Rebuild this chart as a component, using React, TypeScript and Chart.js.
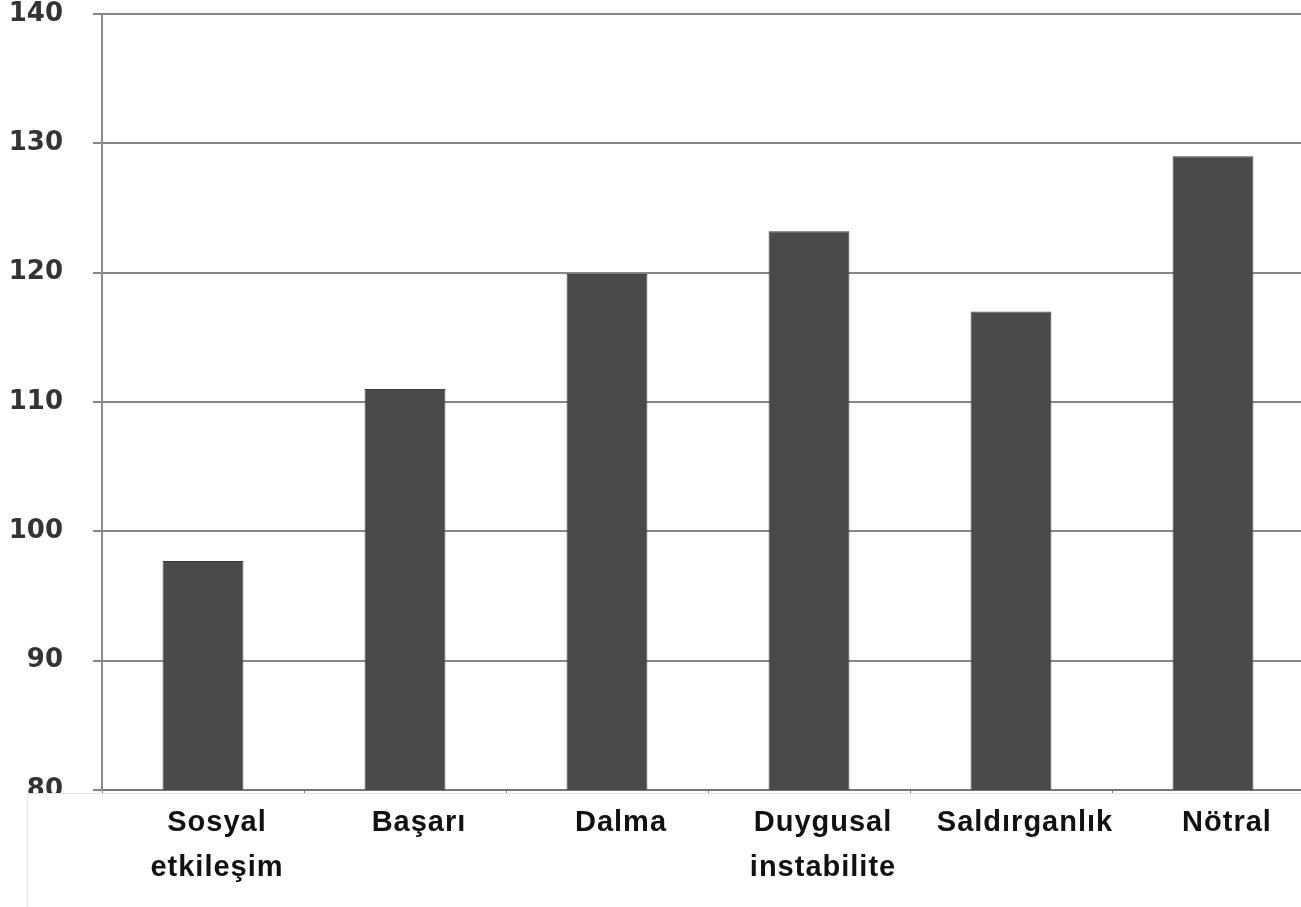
import React, { useEffect, useRef } from "react";
import { Chart, registerables } from "chart.js";

Chart.register(...registerables);

const categories: (string | string[])[] = [
  ["Sosyal", "etkileşim"],
  "Başarı",
  "Dalma",
  ["Duygusal", "instabilite"],
  "Saldırganlık",
  "Nötral",
];
const values: number[] = [97.7, 111, 119.9, 123.2, 117, 129];
const yMin = 80;
const yMax = 140;
const yStep = 10;

const overlayPlugin = {
  id: "overlayBox",
  afterDatasetsDraw(chart: any) {
    const ctx = chart.ctx;
    ctx.save();
    ctx.fillStyle = "#ffffff";
    ctx.fillRect(27, 793, chart.width - 27, chart.height - 793);
    ctx.strokeStyle = "#e4e4e4";
    ctx.lineWidth = 1;
    ctx.beginPath();
    ctx.moveTo(27.5, chart.height);
    ctx.lineTo(27.5, 793.5);
    ctx.lineTo(chart.width, 793.5);
    ctx.stroke();
    ctx.restore();
    (ctx as any).letterSpacing = "1px";
  },
  afterDraw(chart: any) {
    (chart.ctx as any).letterSpacing = "0px";
  },
};

export default function App() {
  const ref = useRef<HTMLCanvasElement | null>(null);
  useEffect(() => {
    if (!ref.current) return;
    const chart = new Chart(ref.current, {
      type: "bar",
      data: {
        labels: categories,
        datasets: [
          {
            data: values,
            backgroundColor: "#4a4a4a",
            borderColor: "#3c3c3c",
            borderWidth: 1,
            barPercentage: 0.4,
            categoryPercentage: 1,
          },
        ],
      },
      options: {
        responsive: false,
        animation: false,
        layout: { autoPadding: false, padding: { top: 14, right: 6, left: 0, bottom: 0 } },
        plugins: { legend: { display: false }, tooltip: { enabled: false } },
        scales: {
          x: {
            afterFit: (s: any) => {
              s.height = 117;
              s.paddingLeft = 0;
              s.paddingRight = 0;
            },
            grid: { display: true, drawOnChartArea: false, tickLength: 4, color: "#8a8a8a", lineWidth: 1 },
            border: { display: true, color: "#777777", width: 2 },
            ticks: {
              z: 1,
              color: "#111111",
              padding: 6,
              labelOffset: 14,
              maxRotation: 0,
              autoSkip: false,
              font: { family: "'Liberation Sans', Arial, sans-serif", size: 29, weight: "bold", lineHeight: 1.56 },
            },
          },
          y: {
            min: yMin,
            max: yMax,
            afterFit: (s: any) => {
              s.width = 102;
              s.paddingTop = 0;
              s.paddingBottom = 0;
            },
            grid: { color: "#868686", lineWidth: 2, tickLength: 9 },
            border: { display: true, color: "#8a8a8a", width: 2 },
            ticks: {
              stepSize: yStep,
              color: "#333333",
              padding: 30,
              font: { family: "'DejaVu Sans', sans-serif", size: 26, weight: "bold" },
            },
          },
        },
      },
      plugins: [overlayPlugin],
    } as any);
    return () => chart.destroy();
  }, []);
  return (
    <div style={{ position: "fixed", left: 0, top: 0, width: 1301, height: 907, overflow: "hidden", background: "#fff" }}>
      <canvas ref={ref} width={1320} height={907} style={{ display: "block", width: 1320, height: 907 }} />
    </div>
  );
}
